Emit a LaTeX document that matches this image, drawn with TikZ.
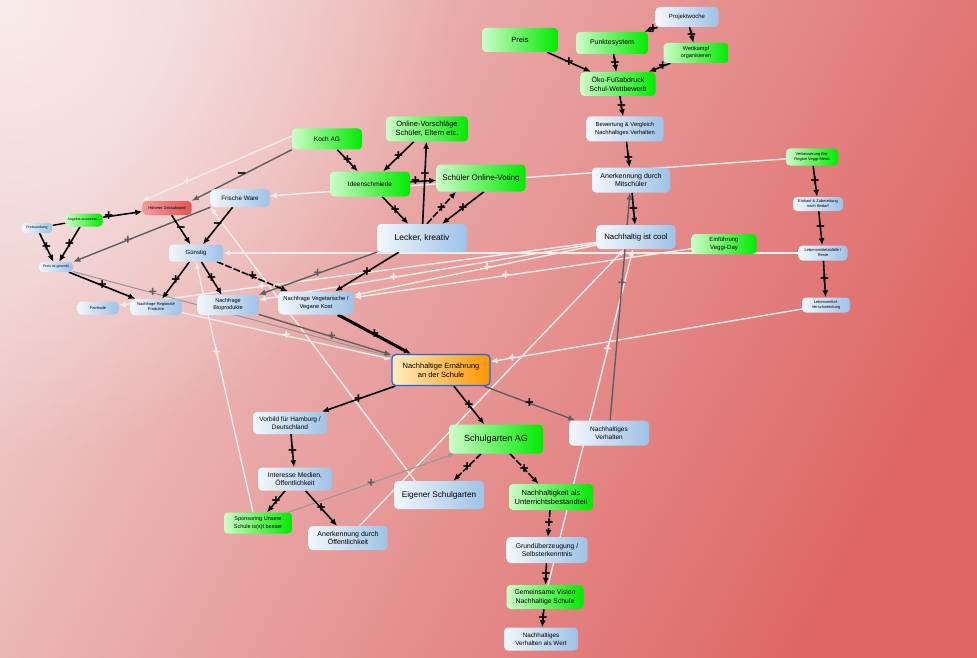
\documentclass[tikz,border=0pt]{standalone}
\usepackage{fontspec}
\setmainfont{Liberation Sans}
\usetikzlibrary{arrows.meta,fadings}
\pgfdeclarelayer{bg}
\pgfdeclarelayer{edges}
\pgfsetlayers{bg,edges,main}
\definecolor{bgTL}{RGB}{238,200,200}
\definecolor{bgMD}{RGB}{232,163,163}
\definecolor{bgBR}{RGB}{222,102,100}
\definecolor{blL}{RGB}{242,247,252}
\definecolor{blR}{RGB}{158,194,230}
\definecolor{grL}{RGB}{205,252,200}
\definecolor{grR}{RGB}{0,235,0}
\definecolor{rdL}{RGB}{242,155,155}
\definecolor{rdR}{RGB}{224,84,84}
\definecolor{orL}{RGB}{255,236,192}
\definecolor{orR}{RGB}{255,150,0}
\definecolor{brd}{RGB}{30,100,230}
\definecolor{wh}{RGB}{242,236,236}
\definecolor{gyD}{RGB}{95,95,95}
\definecolor{gyL}{RGB}{150,150,150}
\tikzfading[name=glowfade, inner color=transparent!0, outer color=transparent!100]
\newcommand\fsz[2]{\fontsize{#1}{#2}\selectfont}
\tikzset{
 nd/.style={rounded corners=4pt, align=center, inner sep=1pt, text=black},
 bl/.style={nd, left color=blL, right color=blR},
 gr/.style={nd, left color=grL, right color=grR},
 rd/.style={nd, left color=rdL, right color=rdR},
 blk/.style={draw=black, line width=1.6pt, -{Latex[length=7pt,width=6pt]}},
 gry/.style={draw=gyD, line width=1.4pt, -{Latex[length=7pt,width=6pt]}},
 lgy/.style={draw=gyL, line width=1pt, -{Latex[length=6pt,width=5pt]}},
 wht/.style={draw=wh, line width=1.4pt, -{Latex[length=7pt,width=6pt]}},
 lab/.style={font=\fsz{15}{15}\bfseries, inner sep=0pt, text=black},
 wlab/.style={font=\fsz{14}{14}\bfseries, inner sep=0pt, text=wh},
 glab/.style={font=\fsz{14}{14}\bfseries, inner sep=0pt, text=gyD},
 dsh/.style={dash pattern=on 7pt off 2pt},
}
\begin{document}
\begin{tikzpicture}[x=1pt,y=-1pt]
\useasboundingbox (0,0) rectangle (977,658);
\begin{pgfonlayer}{bg}
\shade[top color=bgTL, middle color=bgMD, bottom color=bgBR, shading angle=62] (0,0) rectangle (977,658);
\begin{scope}
\clip (0,0) rectangle (977,658);
\fill[white, opacity=0.65, path fading=glowfade] (0,0) circle (460);
\end{scope}
\end{pgfonlayer}

% top right cluster
\node[bl,minimum width=63pt,minimum height=20pt,font=\fsz{6}{7}] (projekt) at (687,17) {Projektwoche};
\node[gr,minimum width=76pt,minimum height=24pt,font=\fsz{7.5}{9}] (preis) at (520,40) {Preis};
\node[gr,minimum width=72pt,minimum height=22pt,font=\fsz{7}{8.5}] (punkte) at (612,43) {Punktesystem};
\node[gr,minimum width=65pt,minimum height=20pt,font=\fsz{5.5}{7}] (wett) at (696,53) {Wettkampf\\organisieren};
\node[gr,minimum width=75pt,minimum height=24pt,font=\fsz{7}{9}] (oeko) at (618,84) {Öko-Fußabdruck\\Schul-Wettbewerb};
\node[bl,minimum width=77pt,minimum height=25pt,font=\fsz{5.8}{7.5}] (bewert) at (625,129) {Bewertung \& Vergleich\\Nachhaltiges Verhalten};
\node[bl,minimum width=78pt,minimum height=25pt,font=\fsz{7}{8.5}] (anerkM) at (631,180) {Anerkennung durch\\Mitschüler};
\node[bl,minimum width=79pt,minimum height=24pt,font=\fsz{7.8}{9}] (cool) at (636,237) {Nachhaltig ist cool};
\node[gr,minimum width=65pt,minimum height=20pt,font=\fsz{6}{7.5}] (veggi) at (724,244) {Einführung\\Veggi-Day};
\node[gr,minimum width=52pt,minimum height=17pt,font=\fsz{4}{5}] (verbess) at (812,157) {Verbesserung Bio-\\Region Veggi-Menü};
\node[bl,minimum width=50pt,minimum height=14pt,font=\fsz{4}{5}] (einkauf) at (818,204) {Einkauf \& Zubereitung\\nach Bedarf};
\node[bl,minimum width=49pt,minimum height=15pt,font=\fsz{4}{5}] (abfall) at (823,253) {Lebensmittelabfälle /\\Reste};
\node[bl,minimum width=48pt,minimum height=15pt,font=\fsz{4}{5}] (verschw) at (826,305) {Lebensmittel-\\Verschwendung};

% middle
\node[gr,minimum width=70pt,minimum height=21pt,font=\fsz{6.5}{8}] (koch) at (327,139) {Koch AG};
\node[gr,minimum width=82pt,minimum height=25pt,font=\fsz{7.5}{9}] (onlinev) at (427,129) {Online-Vorschläge\\Schüler, Eltern etc.};
\node[gr,minimum width=80pt,minimum height=25pt,font=\fsz{6.5}{8}] (ideen) at (370,184) {Ideenschmiede};
\node[gr,minimum width=89pt,minimum height=27pt,font=\fsz{8}{9}] (voting) at (481,178) {Schüler Online-Voting};
\node[bl,minimum width=90pt,minimum height=28pt,font=\fsz{8.5}{10}] (lecker) at (422,238) {Lecker, kreativ};
\node[bl,minimum width=59pt,minimum height=18pt,font=\fsz{6.3}{7.5}] (frische) at (240,198) {Frische Ware};
\node[rd,minimum width=49pt,minimum height=14pt,font=\fsz{4}{5}] (hoeher) at (167,208) {Höherer Zeitaufwand};
\node[gr,minimum width=37pt,minimum height=13pt,font=\fsz{3.5}{4.5}] (angebot) at (84,220) {Angebot ausweiten...};
\node[bl,minimum width=31pt,minimum height=10pt,font=\fsz{3.5}{4.5}] (preisL) at (37,228) {Preissenkung};
\node[bl,minimum width=34pt,minimum height=10pt,font=\fsz{3.5}{4.5}] (preisG) at (56,267) {Preis ist gesenkt};
\node[bl,minimum width=54pt,minimum height=17pt,font=\fsz{6}{7}] (guenstig) at (196,253) {Günstig};
\node[bl,minimum width=41pt,minimum height=13pt,font=\fsz{4}{5}] (fair) at (98,308) {Fairtrade};
\node[bl,minimum width=51pt,minimum height=16pt,font=\fsz{4}{5}] (regional) at (156,307) {Nachfrage Regionale\\Produkte};
\node[bl,minimum width=61pt,minimum height=20pt,font=\fsz{5.5}{7}] (bio) at (228,305) {Nachfrage\\Bioprodukte};
\node[bl,minimum width=75pt,minimum height=23pt,font=\fsz{5.8}{7.5}] (veg) at (316,303) {Nachfrage Vegetarische /\\Vegane Kost};
\node[nd,left color=orL,right color=orR,draw=brd,line width=1.2pt,minimum width=98pt,minimum height=31pt,font=\fsz{7.5}{9}] (ern) at (441,370) {Nachhaltige Ernährung\\an der Schule};

% bottom
\node[bl,minimum width=74pt,minimum height=22pt,font=\fsz{6.5}{8}] (vorbild) at (290,423) {Vorbild für Hamburg /\\Deutschland};
\node[bl,minimum width=74pt,minimum height=23pt,font=\fsz{6.8}{8.5}] (interesse) at (295,479) {Interesse Medien,\\Öffentlichkeit};
\node[gr,minimum width=68pt,minimum height=21pt,font=\fsz{5.5}{7.5}] (sponsor) at (258,523) {Sponsoring Unsere\\Schule is(s)t besser};
\node[bl,minimum width=79pt,minimum height=24pt,font=\fsz{7}{8.5}] (anerkO) at (348,538) {Anerkennung durch\\Öffentlichkeit};
\node[gr,minimum width=94pt,minimum height=29pt,font=\fsz{9}{10}] (garten) at (496,439) {Schulgarten AG};
\node[bl,minimum width=90pt,minimum height=28pt,font=\fsz{8.2}{10}] (eigen) at (439,495) {Eigener Schulgarten};
\node[bl,minimum width=80pt,minimum height=25pt,font=\fsz{6.5}{8}] (nverh) at (609,433) {Nachhaltiges\\Verhalten};
\node[gr,minimum width=84pt,minimum height=26pt,font=\fsz{7.5}{9}] (unterricht) at (551,497) {Nachhaltigkeit als\\Unterrichtsbestandteil};
\node[bl,minimum width=81pt,minimum height=26pt,font=\fsz{6.8}{8.5}] (grund) at (547,550) {Grundüberzeugung /\\Selbsterkenntnis};
\node[gr,minimum width=77pt,minimum height=24pt,font=\fsz{6.8}{8.5}] (vision) at (545,597) {Gemeinsame Vision\\Nachhaltige Schule};
\node[bl,minimum width=74pt,minimum height=23pt,font=\fsz{6.3}{8}] (wert) at (541,639) {Nachhaltiges\\Verhalten als Wert};

\begin{pgfonlayer}{edges}
% white connectors
\draw[wht] (verbess) -- (frische);
\draw[wht] (abfall) -- (guenstig);
\draw[wht] (veggi) -- node[wlab,pos=.55]{+} (veg);
\draw[wht] (cool) -- node[wlab,pos=.45]{+} (veg);
\draw[wht] (cool) -- node[wlab,pos=.6]{+} (bio);
\draw[wht] (cool) -- node[wlab,pos=.7]{+} (fair);
\draw[wht] (regional) -- node[wlab]{+} (ern);
\draw[wht] (verschw) -- node[wlab,pos=.93]{+} (ern);
\draw[wht] (vision) -- node[wlab,pos=.7]{+} (cool);
\draw[wht] (anerkO) -- (cool);
\draw[wht] ([xshift=-24pt]eigen.north) -- (frische.south west);
\draw[wht] ([xshift=-5pt]sponsor.north) -- node[wlab,pos=.64]{+} (guenstig.south);
\draw[wht] ([yshift=3pt]koch.west) -- node[wlab,pos=.7]{+} (hoeher.north west);
% gray connectors
\draw[gry] (koch.south west) -- node[lab]{−} (hoeher.north east);
\draw[gry] (frische.south west) -- node[glab,pos=.6]{+} (preisG.north east);
\draw[lgy] (preisG) -- node[glab,pos=.25]{+} (ern);
\draw[gry] (lecker.south west) -- node[glab]{+} (bio.north east);
\draw[gry] (bio) -- node[glab,pos=.55]{+} (ern);
\draw[lgy] (sponsor) -- node[glab]{+} (garten);
\draw[gry] (nverh) -- node[glab,pos=.6]{+} (anerkM);
% black connectors
\draw[blk] (projekt) -- node[lab,pos=.35]{+} (punkte);
\draw[blk] (projekt) -- node[lab]{+} (wett);
\draw[blk] (preis) -- node[lab]{+} (oeko);
\draw[blk] (punkte) -- node[lab]{+} (oeko);
\draw[blk] (wett) -- node[lab,pos=.35]{+} (oeko);
\draw[blk,dsh] (oeko) -- node[lab]{+} (bewert);
\draw[blk] (bewert) -- node[lab,pos=.65]{+} (anerkM);
\draw[blk] (anerkM) -- node[lab]{+} (cool);
\draw[blk] (verbess) -- node[lab]{+} (einkauf);
\draw[blk] (einkauf) -- node[lab]{−} (abfall);
\draw[blk] (abfall) -- node[lab]{+} (verschw);
\draw[blk] (koch) -- node[lab]{+} (ideen);
\draw[blk] (onlinev) -- node[lab]{+} (ideen);
\draw[blk] (ideen) -- node[lab,pos=.2]{+} (voting);
\draw[blk] (ideen) -- node[lab]{+} (lecker);
\draw[blk] (lecker) -- node[lab,pos=.6]{+} (onlinev);
\draw[blk] ([xshift=3pt]voting.south) -- node[lab]{+} ([xshift=20pt]lecker.north);
\draw[blk,dsh] ([xshift=5pt]lecker.north) -- node[lab]{+} ([xshift=-25pt]voting.south);
\draw[blk] (angebot) -- node[lab,pos=.15]{+} (hoeher);
\draw[blk] (angebot) -- node[lab]{+} (preisG);
\draw[blk] (preisL) -- node[lab]{+} (preisG);
\draw[black,line width=1.4pt] (preisL) -- (angebot);
\draw[blk] (hoeher) -- node[lab]{−} (guenstig);
\draw[blk] (frische) -- node[lab]{−} (guenstig);
\draw[blk] (guenstig) -- node[lab]{+} (regional);
\draw[blk] (guenstig) -- node[lab]{+} (bio);
\draw[blk,dsh] (guenstig) -- node[lab]{+} (veg);
\draw[blk] (preisG) -- node[lab]{+} (regional);
\draw[blk] (lecker) -- node[lab]{+} (veg);
\draw[blk,line width=3pt] (veg) -- node[lab]{+} (ern);
\draw[blk] (ern) -- node[lab]{+} (vorbild);
\draw[blk] (ern) -- node[lab]{+} (garten);
\draw[gry] (ern) -- node[lab]{+} (nverh);
\draw[blk] (vorbild) -- node[lab]{+} (interesse);
\draw[blk] (interesse) -- node[lab]{+} (sponsor);
\draw[blk] (interesse) -- node[lab]{+} (anerkO);
\draw[blk,dsh] (garten) -- node[lab]{+} (eigen);
\draw[blk,dsh] (garten) -- node[lab]{+} (unterricht);
\draw[blk,dsh] (unterricht) -- node[lab]{+} (grund);
\draw[blk,dsh] (grund) -- node[lab]{+} (vision);
\draw[blk,dsh] (vision) -- node[lab]{+} (wert);
\end{pgfonlayer}
\end{tikzpicture}
\end{document}
